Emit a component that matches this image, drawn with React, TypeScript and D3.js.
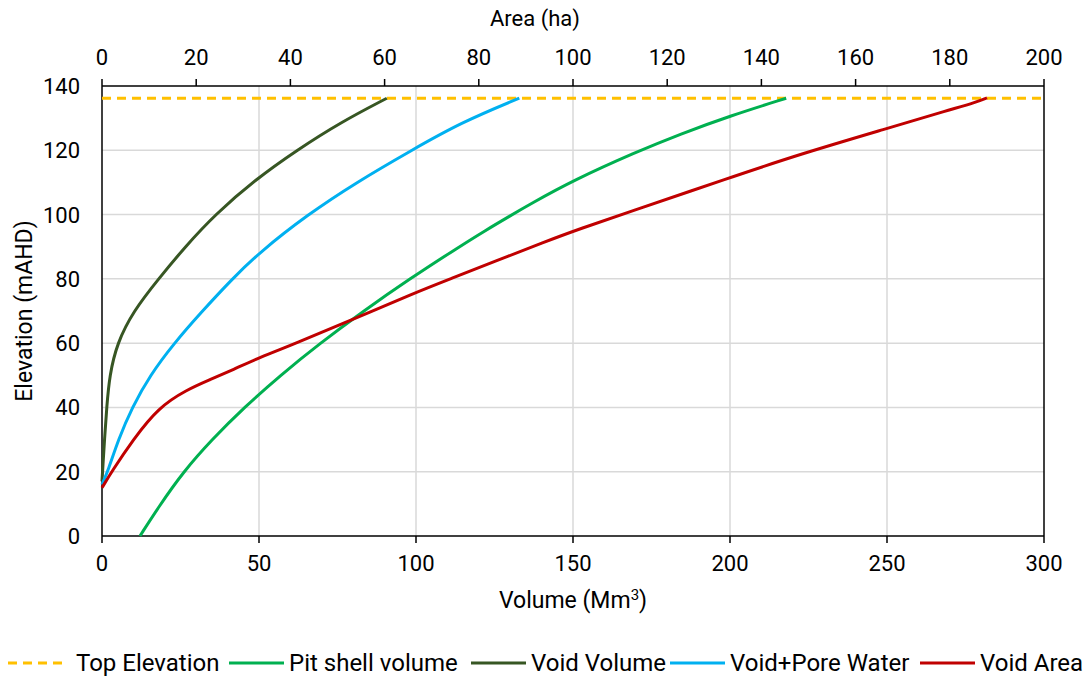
import React from "react";
import * as d3 from "d3";

// ---- Data ----
const volumeTicks = [0, 50, 100, 150, 200, 250, 300];
const areaTicks = [0, 20, 40, 60, 80, 100, 120, 140, 160, 180, 200];
const elevationTicks = [0, 20, 40, 60, 80, 100, 120, 140];

const topElevation = 136.2;

// Pit shell volume: [volume Mm3, elevation mAHD]
const pitShellVolume: [number, number][] = [
  [12.1, 0], [18, 9], [25.9, 20], [35, 30], [45.3, 40], [56.8, 50], [69.5, 60],
  [83.3, 70], [98, 80], [113.8, 90], [122, 95], [129.8, 99.5], [136.3, 103.2],
  [150, 110.6], [170.2, 119.5], [184.1, 125], [200, 130.7], [217.9, 136.2],
];

// Void Volume: [volume Mm3, elevation mAHD]
const voidVolume: [number, number][] = [
  [0, 17], [0.3, 22], [0.8, 30], [1.5, 40], [2.4, 50], [4.8, 60], [10, 70],
  [18, 80], [26.5, 90], [36, 100], [49, 111], [62, 120], [76, 128.7], [90.7, 136.2],
];

// Void + Pore Water: [volume Mm3, elevation mAHD]
const voidPoreWater: [number, number][] = [
  [0, 16], [2, 20.5], [5.2, 30], [9.6, 40], [15.3, 50], [23, 60], [31.5, 69.5],
  [41.5, 80], [50, 88.1], [65.5, 100], [81, 110], [98.6, 120], [114.5, 128.7],
  [132.9, 136.2],
];

// Void Area: [area ha, elevation mAHD]
const voidArea: [number, number][] = [
  [0, 15], [2.05, 20], [6.6, 30], [12, 40], [18, 45.5],
  [22.9, 48.6], [27.9, 51.8], [33.2, 55.4], [41.3, 60], [52.3, 66.8], [66.5, 75.7],
  [74, 80], [83.5, 85.5], [94, 91.5], [101.5, 95.6], [111.4, 100.5], [133.3, 111.5],
  [148.2, 118.8], [166.7, 126.8], [180, 132.6], [185.5, 134.9], [187.9, 136.3],
];

const legendLabels = ["Top Elevation", "Pit shell volume", "Void Volume", "Void+Pore Water", "Void Area"];
const legendColors = ["#FFC000", "#00B050", "#375623", "#00B0F0", "#C00000"];

// ---- Layout ----
const W = 1083;
const H = 677;
const M = { left: 102, right: 39, top: 86, bottom: 141 };
const FONT = "Roboto, 'Open Sans', sans-serif";

export default function App() {
  const x = d3.scaleLinear().domain([0, 300]).range([M.left, W - M.right]);
  const xTop = d3.scaleLinear().domain([0, 200]).range([M.left, W - M.right]);
  const y = d3.scaleLinear().domain([0, 140]).range([H - M.bottom, M.top]);

  const volLine = d3
    .line<[number, number]>()
    .x((d) => x(d[0]))
    .y((d) => y(d[1]))
    .curve(d3.curveBasis);
  const areaLine = d3
    .line<[number, number]>()
    .x((d) => xTop(d[0]))
    .y((d) => y(d[1]))
    .curve(d3.curveBasis);

  const x0 = M.left;
  const x1 = W - M.right;
  const y0 = H - M.bottom;
  const y1 = M.top;

  const legendX = [8, 229, 471, 670, 920];
  const legendY = 663;
  const lineLen = 55;

  return (
    <svg
      width={W}
      height={H}
      style={{ position: "absolute", left: 0, top: 0, background: "#fff" }}
      fontFamily={FONT}
    >
      <rect x={0} y={0} width={W} height={H} fill="#fff" />
      {/* grid */}
      {volumeTicks.slice(1, -1).map((t) => (
        <line key={"gx" + t} x1={x(t)} x2={x(t)} y1={y0} y2={y1} stroke="#d9d9d9" strokeWidth={1.5} />
      ))}
      {elevationTicks.slice(1, -1).map((t) => (
        <line key={"gy" + t} x1={x0} x2={x1} y1={y(t)} y2={y(t)} stroke="#d9d9d9" strokeWidth={1.5} />
      ))}

      {/* frame */}
      <line x1={x0} x2={x0} y1={y0} y2={y1} stroke="#000" strokeWidth={1.5} />
      <line x1={x1} x2={x1} y1={y0} y2={y1} stroke="#000" strokeWidth={1.5} />
      <line x1={x0} x2={x1} y1={y0} y2={y0} stroke="#000" strokeWidth={1.5} />
      <line x1={x0} x2={x1} y1={y1} y2={y1} stroke="#000" strokeWidth={1.5} />

      {/* bottom ticks */}
      {volumeTicks.map((t) => (
        <g key={"bx" + t}>
          <line x1={x(t)} x2={x(t)} y1={y0} y2={y0 + 7} stroke="#000" strokeWidth={1.5} />
          <text x={x(t)} y={y0 + 35} textAnchor="middle" fontSize={22} fill="#000">
            {t}
          </text>
        </g>
      ))}
      {/* top ticks */}
      {areaTicks.map((t) => (
        <g key={"tx" + t}>
          <line x1={xTop(t)} x2={xTop(t)} y1={y1} y2={y1 - 7} stroke="#000" strokeWidth={1.5} />
          <text x={xTop(t)} y={y1 - 21} textAnchor="middle" fontSize={22} fill="#000">
            {t}
          </text>
        </g>
      ))}
      {/* left ticks */}
      {elevationTicks.map((t) => (
        <text key={"ly" + t} x={x0 - 22} y={y(t) + 8} textAnchor="end" fontSize={22} fill="#000">
          {t}
        </text>
      ))}

      {/* titles */}
      <text x={535} y={26} textAnchor="middle" fontSize={22} fill="#000">
        Area (ha)
      </text>
      <text x={573} y={608} textAnchor="middle" fontSize={23} fill="#000">
        Volume (Mm<tspan fontSize={15} dy={-8}>3</tspan>
        <tspan dy={8}>)</tspan>
      </text>
      <text
        transform={`translate(32, ${(y0 + y1) / 2}) rotate(-90)`}
        textAnchor="middle"
        fontSize={23}
        fill="#000"
      >
        Elevation (mAHD)
      </text>

      {/* series */}
      <line
        x1={x(0)}
        x2={x(300)}
        y1={y(topElevation)}
        y2={y(topElevation)}
        stroke="#FFC000"
        strokeWidth={3}
        strokeDasharray="9,6"
      />
      <path d={volLine(pitShellVolume) || ""} fill="none" stroke="#00B050" strokeWidth={3} />
      <path d={volLine(voidVolume) || ""} fill="none" stroke="#375623" strokeWidth={3} />
      <path d={volLine(voidPoreWater) || ""} fill="none" stroke="#00B0F0" strokeWidth={3} />
      <path d={areaLine(voidArea) || ""} fill="none" stroke="#C00000" strokeWidth={3} />

      {/* legend */}
      {legendLabels.map((lab, i) => (
        <g key={lab}>
          <line
            x1={legendX[i]}
            x2={legendX[i] + lineLen}
            y1={legendY}
            y2={legendY}
            stroke={legendColors[i]}
            strokeWidth={3}
            strokeDasharray={i === 0 ? "9,6" : undefined}
          />
          <text x={legendX[i] + lineLen + (i === 0 ? 13 : 5)} y={legendY + 8} fontSize={24} fill="#000">
            {lab}
          </text>
        </g>
      ))}
    </svg>
  );
}
